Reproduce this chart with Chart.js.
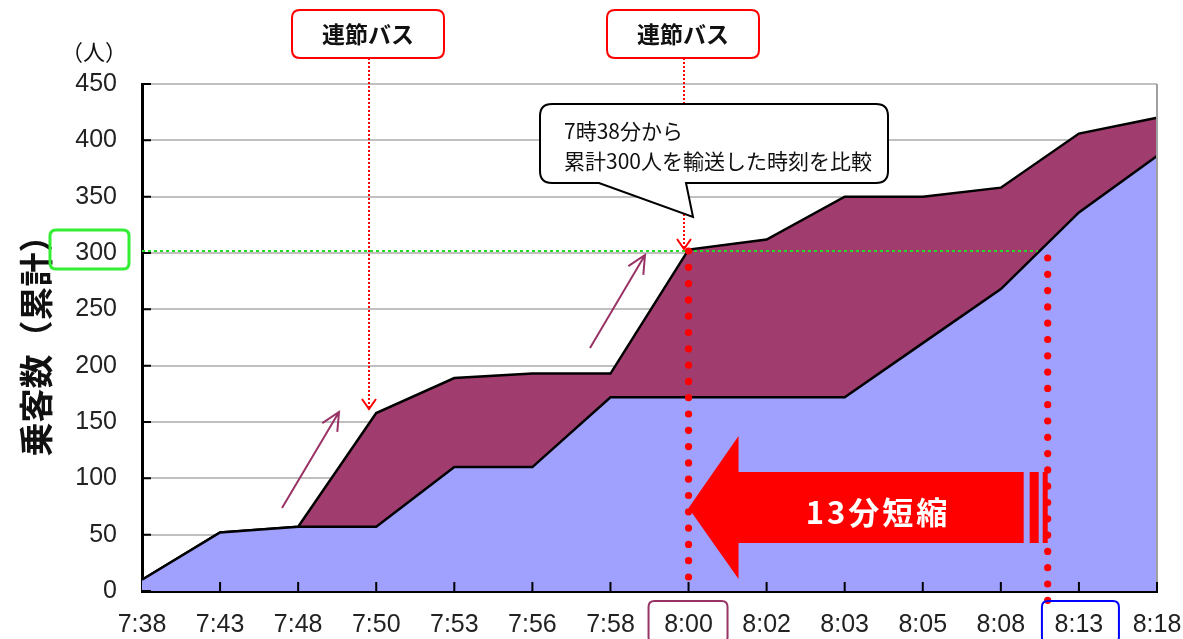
<!DOCTYPE html>
<html>
<head>
<meta charset="utf-8">
<script src="https://cdn.jsdelivr.net/npm/chart.js@4/dist/chart.umd.min.js"></script>
<style>
  html, body { margin: 0; padding: 0; background: #fff; }
  #wrap { width: 1183px; height: 639px; position: relative; }
</style>
</head>
<body>
<div id="wrap"><canvas id="c"></canvas></div>
<script>
var times = ["7:38","7:43","7:48","7:50","7:53","7:56","7:58","8:00","8:02","8:03","8:05","8:08","8:13","8:18"];
var regularBus = [10, 52, 57, 57, 110, 110, 172, 172, 172, 172, 220, 268, 336, 386];
var withArticulated = [10, 52, 57, 158, 189, 193, 193, 303, 312, 350, 350, 358, 406, 420];
var yTicks = [0, 50, 100, 150, 200, 250, 300, 350, 400, 450];

var JP = '"Noto Sans CJK JP", sans-serif';

function roundRect(ctx, x, y, w, h, r){
  ctx.beginPath();
  ctx.moveTo(x + r, y);
  ctx.lineTo(x + w - r, y);
  ctx.quadraticCurveTo(x + w, y, x + w, y + r);
  ctx.lineTo(x + w, y + h - r);
  ctx.quadraticCurveTo(x + w, y + h, x + w - r, y + h);
  ctx.lineTo(x + r, y + h);
  ctx.quadraticCurveTo(x, y + h, x, y + h - r);
  ctx.lineTo(x, y + r);
  ctx.quadraticCurveTo(x, y, x + r, y);
  ctx.closePath();
}

function thinArrow(ctx, x1, y1, x2, y2, color){
  var a = Math.atan2(y2 - y1, x2 - x1);
  ctx.strokeStyle = color;
  ctx.lineWidth = 2;
  ctx.setLineDash([]);
  ctx.beginPath();
  ctx.moveTo(x1, y1); ctx.lineTo(x2, y2);
  ctx.moveTo(x2 - 20 * Math.cos(a - 0.45), y2 - 20 * Math.sin(a - 0.45));
  ctx.lineTo(x2, y2);
  ctx.lineTo(x2 - 20 * Math.cos(a + 0.45), y2 - 20 * Math.sin(a + 0.45));
  ctx.stroke();
}

function busLabel(ctx, x, y, tipY){
  // dotted pointer
  ctx.strokeStyle = "#ff0000";
  ctx.lineWidth = 2;
  ctx.setLineDash([2, 2]);
  ctx.beginPath();
  ctx.moveTo(x, y + 48); ctx.lineTo(x, tipY);
  ctx.stroke();
  ctx.setLineDash([]);
  ctx.beginPath();
  ctx.moveTo(x - 7, tipY - 10); ctx.lineTo(x, tipY); ctx.lineTo(x + 7, tipY - 10);
  ctx.stroke();
  // box
  roundRect(ctx, x - 77, y, 152, 48, 8);
  ctx.fillStyle = "#fff";
  ctx.fill();
  ctx.lineWidth = 2;
  ctx.strokeStyle = "#ff0000";
  ctx.stroke();
  ctx.fillStyle = "#111";
  ctx.font = "bold 23px " + JP;
  ctx.textAlign = "center";
  ctx.textBaseline = "middle";
  ctx.fillText("連節バス", x - 1, y + 24);
}

var annotations = {
  id: "annotations",
  afterDraw: function(chart){
    var ctx = chart.ctx;
    var xs = chart.scales.x, ys = chart.scales.y;
    var area = chart.chartArea;
    ctx.save();

    // right frame in grey
    ctx.strokeStyle = "#a0a0a0";
    ctx.lineWidth = 2;
    ctx.beginPath();
    ctx.moveTo(area.right, area.top); ctx.lineTo(area.right, area.bottom);
    ctx.stroke();

    // inward tick marks
    ctx.strokeStyle = "#000";
    ctx.lineWidth = 2;
    ctx.beginPath();
    yTicks.forEach(function(v){
      var py = ys.getPixelForValue(v);
      ctx.moveTo(area.left, py); ctx.lineTo(area.left + 9, py);
    });
    times.forEach(function(t, i){
      if (i === 0) return;
      var px = xs.getPixelForValue(i);
      ctx.moveTo(px, area.bottom); ctx.lineTo(px, area.bottom - 9);
    });
    ctx.stroke();

    var y300 = ys.getPixelForValue(300);
    var x800 = xs.getPixelForValue(7);
    var x813 = xs.getPixelForValue(12);
    var step = xs.getPixelForValue(1) - xs.getPixelForValue(0);
    var xEnd = xs.getPixelForValue(11) + 0.6 * step;

    // green 300 guide
    ctx.strokeStyle = "#22dd22";
    ctx.lineWidth = 2;
    ctx.setLineDash([3, 3]);
    ctx.beginPath();
    ctx.moveTo(area.left, y300 - 2); ctx.lineTo(xEnd - 10, y300 - 2);
    ctx.stroke();
    ctx.setLineDash([]);
    roundRect(ctx, 50, y300 - 23, 79, 39, 6);
    ctx.lineWidth = 3;
    ctx.strokeStyle = "#33ee33";
    ctx.stroke();

    // big red arrow
    var ay = 508;
    ctx.fillStyle = "#ff0000";
    ctx.beginPath();
    ctx.moveTo(x800, ay);
    ctx.lineTo(x800 + 50, ay - 72);
    ctx.lineTo(x800 + 50, ay - 36);
    ctx.lineTo(xEnd - 24, ay - 36);
    ctx.lineTo(xEnd - 24, ay + 35);
    ctx.lineTo(x800 + 50, ay + 35);
    ctx.lineTo(x800 + 50, ay + 71);
    ctx.closePath();
    ctx.fill();
    ctx.fillRect(xEnd - 18, ay - 36, 9, 71);
    ctx.fillRect(xEnd - 5, ay - 36, 5, 71);
    ctx.fillStyle = "#fff";
    ctx.font = "bold 31px " + JP;
    ctx.textAlign = "center";
    ctx.textBaseline = "middle";
    ctx.letterSpacing = "3px";
    ctx.fillText("13分短縮", 878, ay + 4);
    ctx.letterSpacing = "0px";

    // red dotted verticals
    ctx.fillStyle = "#ff0000";
    for (var yy = y300 - 2; yy <= area.bottom - 12; yy += 16.3){
      ctx.beginPath(); ctx.arc(x800, yy, 3.6, 0, Math.PI * 2); ctx.fill();
    }
    for (var yy2 = y300 + 5; yy2 <= 602; yy2 += 16.3){
      ctx.beginPath(); ctx.arc(xEnd, yy2, 3.6, 0, Math.PI * 2); ctx.fill();
    }

    // thin rising arrows
    thinArrow(ctx, 282, 508, 339, 412, "#993366");
    thinArrow(ctx, 590, 348, 645, 255, "#993366");

    // articulated bus labels
    busLabel(ctx, 369, 10, ys.getPixelForValue(158) - 4);
    busLabel(ctx, 684, 10, y300 - 4);

    // callout
    ctx.beginPath();
    ctx.moveTo(552, 104);
    ctx.lineTo(876, 104);
    ctx.quadraticCurveTo(888, 104, 888, 116);
    ctx.lineTo(888, 171);
    ctx.quadraticCurveTo(888, 183, 876, 183);
    ctx.lineTo(686, 183);
    ctx.lineTo(693, 217);
    ctx.lineTo(599, 183);
    ctx.lineTo(552, 183);
    ctx.quadraticCurveTo(540, 183, 540, 171);
    ctx.lineTo(540, 116);
    ctx.quadraticCurveTo(540, 104, 552, 104);
    ctx.closePath();
    ctx.fillStyle = "#fff";
    ctx.fill();
    ctx.lineWidth = 2;
    ctx.strokeStyle = "#000";
    ctx.stroke();
    ctx.fillStyle = "#111";
    ctx.font = "21px " + JP;
    ctx.textAlign = "left";
    ctx.textBaseline = "middle";
    ctx.fillText("7時38分から", 564, 131);
    ctx.fillText("累計300人を輸送した時刻を比較", 564, 161);

    // unit
    ctx.font = "22px " + JP;
    ctx.textAlign = "center";
    ctx.fillText("（人）", 94, 52);

    // boxed time labels
    roundRect(ctx, x800 - 40, 601, 79, 42, 6);
    ctx.lineWidth = 2;
    ctx.strokeStyle = "#993366";
    ctx.stroke();
    roundRect(ctx, x813 - 37, 601, 77, 42, 6);
    ctx.strokeStyle = "#0000ff";
    ctx.stroke();

    ctx.restore();
  }
};

new Chart(document.getElementById("c"), {
  type: "line",
  data: {
    labels: times,
    datasets: [
      {
        label: "通常バス",
        data: regularBus,
        borderColor: "#000",
        borderWidth: 2.5,
        backgroundColor: "#a0a0ff",
        fill: "origin",
        pointRadius: 0,
        tension: 0
      },
      {
        label: "連節バス",
        data: withArticulated,
        borderColor: "#000",
        borderWidth: 2.5,
        backgroundColor: "#a03c6e",
        fill: "-1",
        pointRadius: 0,
        tension: 0
      }
    ]
  },
  options: {
    responsive: true,
    maintainAspectRatio: false,
    animation: false,
    layout: { padding: { top: 84, right: 26, left: 0, bottom: 0 } },
    plugins: { legend: { display: false }, tooltip: { enabled: false } },
    scales: {
      x: {
        offset: false,
        grid: { display: true, drawOnChartArea: false, drawTicks: false },
        border: { display: true, color: "#000", width: 3 },
        ticks: {
          color: "#222",
          padding: 19,
          maxRotation: 0,
          autoSkip: false,
          font: { family: "Liberation Sans", size: 25 }
        },
        afterFit: function(scale){
          scale.height = 48;
          scale.paddingRight = 0;
          scale.paddingLeft = 0;
        }
      },
      y: {
        min: 0,
        max: 450,
        grid: { color: "#c0c0c0", lineWidth: 2, drawTicks: false },
        border: { display: true, color: "#000", width: 3 },
        ticks: {
          stepSize: 50,
          color: "#222",
          padding: 25,
          font: { family: "Liberation Sans", size: 25 },
          callback: function(v){ return yTicks.indexOf(v) >= 0 ? String(v) : ""; }
        },
        title: {
          display: true,
          text: "乗客数（累計）",
          color: "#111",
          padding: { top: 16, bottom: 0 },
          font: { family: "Noto Sans CJK JP", size: 34, weight: "bold" }
        },
        afterFit: function(scale){ scale.width = 142; }
      }
    }
  },
  plugins: [annotations]
});
</script>
</body>
</html>
